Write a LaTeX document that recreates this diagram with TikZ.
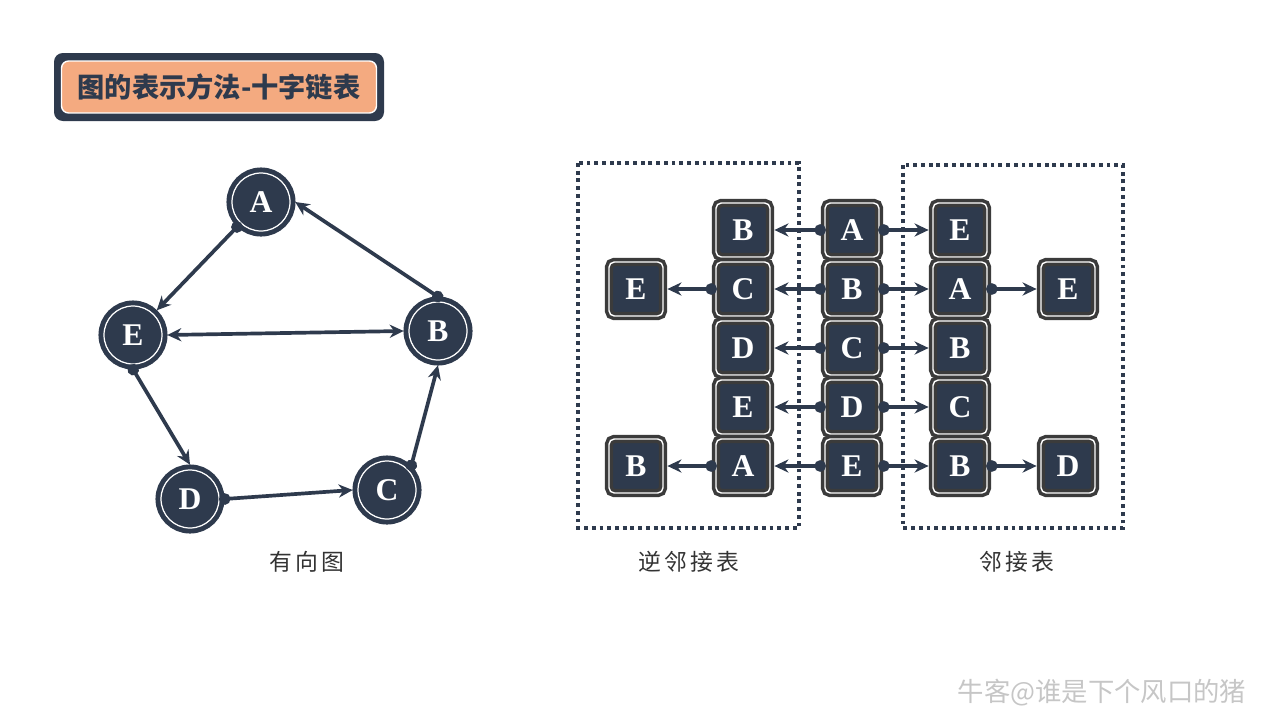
\documentclass[tikz,border=0pt]{standalone}
\usepackage{fontspec}
\setmainfont{Liberation Serif}
\newfontfamily\cjk{Noto Sans CJK SC}
\newfontfamily\cjklabel[LetterSpace=15]{Noto Sans CJK SC}
\usepackage{tikz}
\usetikzlibrary{arrows.meta}
\definecolor{navy}{HTML}{2E3A4D}
\definecolor{boxgray}{HTML}{3B3B3B}
\definecolor{peach}{HTML}{F4AA80}

\begin{document}
\begin{tikzpicture}[x=0.02cm,y=-0.02cm,
  vertex/.style={circle,fill=navy,draw=navy,double=white,double distance=0.7pt,line width=2.8pt,minimum size=1.16cm,inner sep=0pt,outer sep=3pt,text=white,font=\fontsize{18}{18}\selectfont\bfseries},
  cell/.style={rectangle,rounded corners=3pt,fill=navy,draw=boxgray,double=white,double distance=0.8pt,line width=2pt,minimum size=1.08cm,inner sep=0pt,outer sep=2.5pt,text=white,font=\fontsize{18}{18}\selectfont\bfseries},
  link/.style={draw=navy,line width=2.1pt,{Circle[length=6.5pt]}-{Stealth[length=8pt,width=7.5pt]},shorten <=-3pt},
  twoway/.style={draw=navy,line width=2.1pt,{Stealth[length=8pt,width=7.5pt]}-{Stealth[length=8pt,width=7.5pt]}},
  dotbox/.style={draw=navy,line width=2.2pt,dash pattern=on 2.2pt off 2.2pt},
  listname/.style={font=\cjklabel\fontsize{13}{13}\selectfont,text=black!80}]
\useasboundingbox (0,0) rectangle (1280,720);

% title
\fill[navy,rounded corners=5pt] (54,53) rectangle (384,121);
\path (219,87) node(title) [rectangle,rounded corners=4pt,fill=peach,draw=white,line width=0.8pt,minimum width=6.3cm,minimum height=1.04cm,text=navy,font=\cjk\fontsize{15.5}{15.5}\selectfont\bfseries]{图的表示方法-十字链表};

% directed graph
\path (261,202) node(gA) [vertex]{A};
\path (438,331) node(gB) [vertex]{B};
\path (387,490) node(gC) [vertex]{C};
\path (190,499) node(gD) [vertex]{D};
\path (133,335) node(gE) [vertex]{E};
\draw[link] (gA) -- (gE);
\draw[link] (gB.north) -- (gA.east);
\draw[twoway] (gE.east) -- (gB.west);
\draw[link] (gE.south) -- (gD.north);
\draw[link] (gD.east) -- (gC.west);
\draw[link] (gC.45) -- (gB.south);
\path (307,562) node(gname) [listname]{有向图};

% orthogonal list
\draw[dotbox] (578,163) rectangle (799,528);
\draw[dotbox] (903,165) rectangle (1123,528);
\foreach \lab [count=\i] in {A,B,C,D,E}
  \path (852,{171+59*\i}) node(m\i) [cell]{\lab};
\foreach \lab [count=\i] in {B,C,D,E,A}
  \path (743,{171+59*\i}) node(r\i) [cell]{\lab};
\foreach \lab [count=\i] in {E,A,B,C,B}
  \path (960,{171+59*\i}) node(a\i) [cell]{\lab};
\path (636,289) node(rr2) [cell]{E};
\path (636,466) node(rr5) [cell]{B};
\path (1068,289) node(aa2) [cell]{E};
\path (1068,466) node(aa5) [cell]{D};
\foreach \i in {1,...,5}{
  \draw[link] (m\i) -- (r\i);
  \draw[link] (m\i) -- (a\i);
}
\draw[link] (r2) -- (rr2);
\draw[link] (r5) -- (rr5);
\draw[link] (a2) -- (aa2);
\draw[link] (a5) -- (aa5);
\path (689,562) node(rname) [listname]{逆邻接表};
\path (1017,562) node(aname) [listname]{邻接表};

\path (1102,693) node(mark) [text=gray!45,font=\cjk\fontsize{15}{15}\selectfont]{牛客@谁是下个风口的猪};
\end{tikzpicture}
\end{document}
